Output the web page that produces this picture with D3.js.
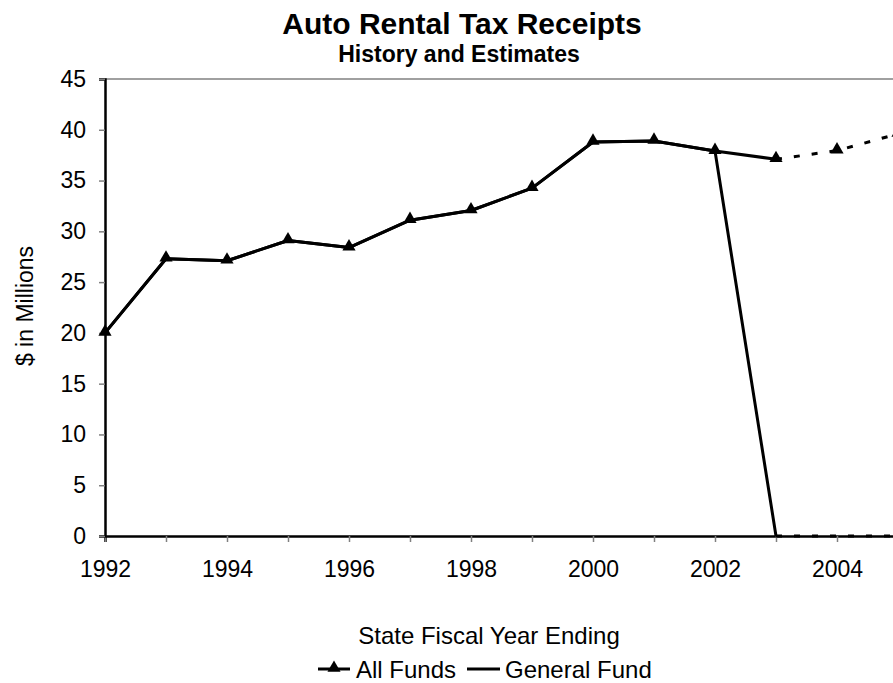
<!DOCTYPE html>
<html lang="en">
	<head>
		<meta charset="utf-8">
		<title>Auto Rental Tax Receipts</title>
		<script type="text/javascript" src="https://cdn.jsdelivr.net/npm/d3@7"></script>
		<style type="text/css">
			body { margin: 0; background: #fff; }
			text { font-family: "Liberation Sans", Arial, sans-serif; fill: #000; }
		</style>
	</head>
	<body>
		<script type="text/javascript">
			//Data ($ in millions)
			var years = [1992, 1993, 1994, 1995, 1996, 1997, 1998, 1999, 2000, 2001, 2002, 2003, 2004, 2005];
			var allFunds = [20.0, 27.3, 27.1, 29.1, 28.4, 31.1, 32.05, 34.25, 38.8, 38.9, 37.9, 37.1, 37.95, 39.6];
			var generalFund = [20.0, 27.3, 27.1, 29.1, 28.4, 31.1, 32.05, 34.25, 38.8, 38.9, 37.9, 0, 0, 0];
			var lastActualYear = 2003;   //estimates (dashed) after this
			var yTicks = [0, 5, 10, 15, 20, 25, 30, 35, 40, 45];
			var xLabelYears = [1992, 1994, 1996, 1998, 2000, 2002, 2004];
			var seriesNames = ["All Funds", "General Fund"];

			//Width and height
			var w = 893;
			var h = 683;
			var plotLeft = 105, plotTop = 79, plotBottom = 536;

			var xScale = d3.scaleLinear()
						   .domain([1992, 2005])
						   .range([plotLeft, plotLeft + 13 * 61]);

			var yScale = d3.scaleLinear()
						   .domain([0, 45])
						   .range([plotBottom, plotTop]);

			var svg = d3.select("body")
						.append("svg")
						.attr("width", w)
						.attr("height", h);

			//Titles
			svg.append("text")
			   .attr("x", 462).attr("y", 34)
			   .attr("text-anchor", "middle")
			   .style("font-size", "30px").style("font-weight", "bold")
			   .text("Auto Rental Tax Receipts");
			svg.append("text")
			   .attr("x", 459).attr("y", 62)
			   .attr("text-anchor", "middle")
			   .style("font-size", "23px").style("font-weight", "bold")
			   .text("History and Estimates");

			//Top border of plot area
			svg.append("line")
			   .attr("x1", plotLeft).attr("x2", w)
			   .attr("y1", yScale(45)).attr("y2", yScale(45))
			   .attr("stroke", "#808080").attr("stroke-width", 1.5);

			//Axes
			var xAxis = d3.axisBottom(xScale)
						  .tickValues(years)
						  .tickSize(6)
						  .tickPadding(19)
						  .tickFormat(function(d) { return xLabelYears.indexOf(d) >= 0 ? d : ""; });

			var yAxis = d3.axisLeft(yScale)
						  .tickValues(yTicks)
						  .tickSize(6)
						  .tickPadding(13);

			var gx = svg.append("g")
						.attr("transform", "translate(0," + plotBottom + ")")
						.call(xAxis);
			var gy = svg.append("g")
						.attr("transform", "translate(" + plotLeft + ",0)")
						.call(yAxis);

			[gx, gy].forEach(function(g) {
				g.select(".domain").attr("stroke", "#000").attr("stroke-width", 2.5);
				g.selectAll(".tick line").attr("stroke", "#808080").attr("stroke-width", 1.5);
				g.selectAll(".tick text").style("font-size", "23px").attr("fill", "#000");
			});

			svg.append("text")
			   .attr("x", 489).attr("y", 644)
			   .attr("text-anchor", "middle")
			   .style("font-size", "24px")
			   .text("State Fiscal Year Ending");

			svg.append("text")
			   .attr("transform", "translate(33," + 306 + ") rotate(-90)")
			   .attr("text-anchor", "middle")
			   .style("font-size", "23px")
			   .text("$ in Millions");

			//Lines: solid for history, dashed for estimates
			function pts(vals) {
				return years.map(function(y, i) { return { year: y, value: vals[i] }; });
			}
			var line = d3.line()
						 .x(function(d) { return xScale(d.year); })
						 .y(function(d) { return yScale(d.value); });

			[generalFund, allFunds].forEach(function(vals) {
				var p = pts(vals);
				svg.append("path")
				   .datum(p.filter(function(d) { return d.year <= lastActualYear; }))
				   .attr("d", line)
				   .attr("fill", "none").attr("stroke", "#000").attr("stroke-width", 3)
				   .attr("stroke-linejoin", "round");
				svg.append("path")
				   .datum(p.filter(function(d) { return d.year >= lastActualYear; }))
				   .attr("d", line)
				   .attr("fill", "none").attr("stroke", "#000").attr("stroke-width", 3)
				   .attr("stroke-dasharray", "6,12");
			});

			//Triangle markers on All Funds
			var tri = d3.symbol().type(d3.symbolTriangle).size(75);
			svg.selectAll("path.marker")
			   .data(pts(allFunds))
			   .enter()
			   .append("path")
			   .attr("class", "marker")
			   .attr("d", tri)
			   .attr("transform", function(d) {
					return "translate(" + xScale(d.year) + "," + (yScale(d.value) - 1) + ")";
			   })
			   .attr("fill", "#000");

			//Legend
			var legend = svg.append("g");
			legend.append("line")
				  .attr("x1", 318).attr("x2", 350).attr("y1", 669).attr("y2", 669)
				  .attr("stroke", "#000").attr("stroke-width", 3);
			legend.append("path")
				  .attr("d", tri)
				  .attr("transform", "translate(334,668)");
			legend.append("text")
				  .attr("x", 356).attr("y", 678)
				  .style("font-size", "24px")
				  .text(seriesNames[0]);
			legend.append("line")
				  .attr("x1", 467).attr("x2", 500).attr("y1", 669).attr("y2", 669)
				  .attr("stroke", "#000").attr("stroke-width", 3);
			legend.append("text")
				  .attr("x", 505).attr("y", 678)
				  .style("font-size", "24px")
				  .text(seriesNames[1]);
		</script>
	</body>
</html>
